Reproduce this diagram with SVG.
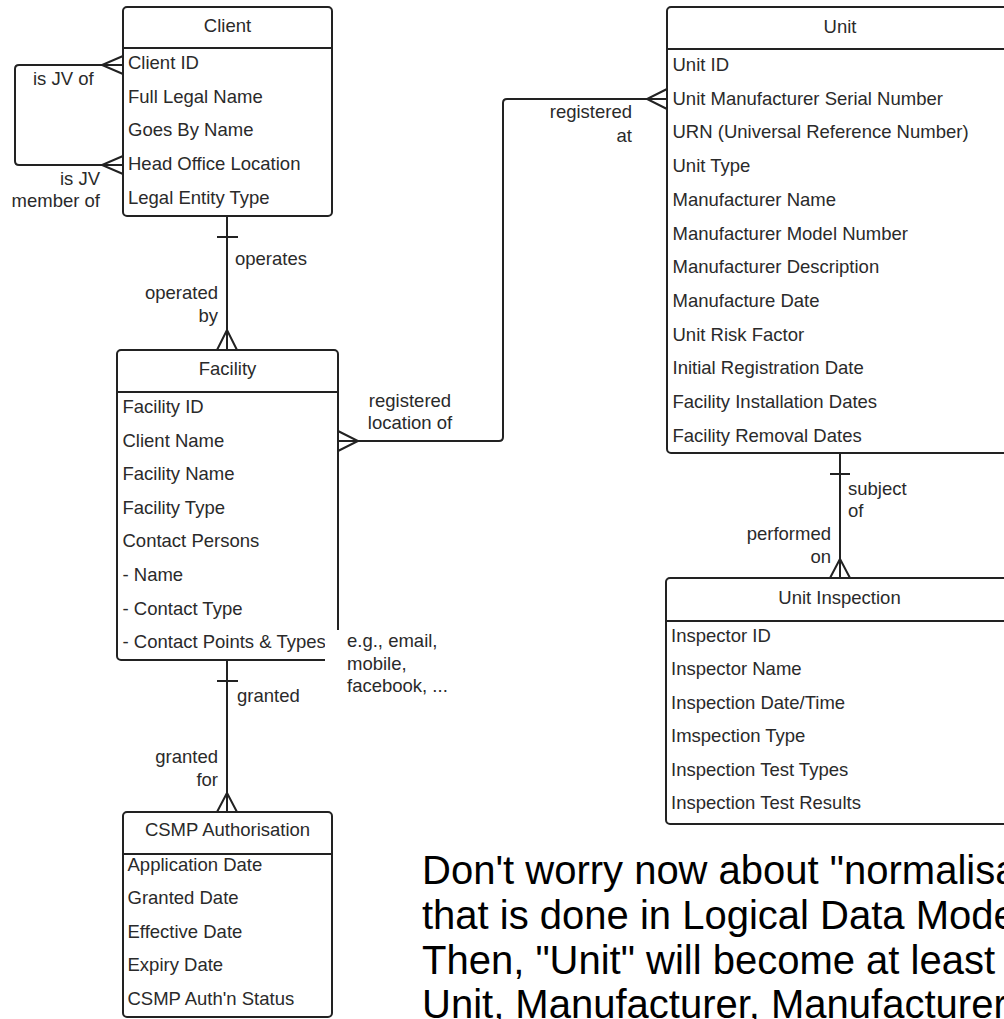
<svg xmlns="http://www.w3.org/2000/svg" width="1004" height="1019" viewBox="0 0 1004 1019">
<style>
text{font-family:"Liberation Sans",Arial,sans-serif;font-size:18.5px;fill:#2a2a2a}
.box{fill:#fff;stroke:#222;stroke-width:2}
.hdr{stroke:#222;stroke-width:2}
.ln{fill:none;stroke:#222;stroke-width:2}
.t{text-anchor:middle}
.r{text-anchor:end}
.c{text-anchor:middle}
.note{font-size:40px;fill:#000}
</style>
<rect width="1004" height="1019" fill="#fff"/>

<g id="connectors">
  <!-- Client self loop -->
  <path class="ln" d="M102,65 H19 Q15,65 15,69 V161 Q15,165 19,165 H102"/>
  <path class="ln" d="M123,56 L102,65 L123,74 M102,65 H123"/>
  <path class="ln" d="M123,156 L102,165 L123,174 M102,165 H123"/>
  <text x="33" y="85">is JV of</text>
  <text class="r" x="100" y="185">is JV</text>
  <text class="r" x="100" y="206.5">member of</text>
  <!-- Client - Facility -->
  <path class="ln" d="M227,216 V350"/>
  <path class="ln" d="M217,237 H238"/>
  <path class="ln" d="M217,350 L227,330 L237,350"/>
  <text x="235" y="265">operates</text>
  <text class="r" x="218" y="299">operated</text>
  <text class="r" x="218" y="321.5">by</text>
  <!-- Facility - Unit -->
  <path class="ln" d="M338,441 H499 Q503,441 503,437 V103 Q503,99 507,99 H667"/>
  <path class="ln" d="M338,431 L358,441 L338,451"/>
  <path class="ln" d="M667,89 L647,99 L667,109"/>
  <text class="c" x="410" y="406.5">registered</text>
  <text class="c" x="410" y="429">location of</text>
  <text class="r" x="632" y="118">registered</text>
  <text class="r" x="632" y="141.5">at</text>
  <!-- Facility - CSMP -->
  <path class="ln" d="M227,660 V812"/>
  <path class="ln" d="M217,681 H238"/>
  <path class="ln" d="M217,812 L227,793 L237,812"/>
  <text x="237" y="701.5">granted</text>
  <text class="r" x="218" y="763">granted</text>
  <text class="r" x="218" y="786">for</text>
  <!-- Unit - Inspection -->
  <path class="ln" d="M840,453 V578"/>
  <path class="ln" d="M830,474 H850"/>
  <path class="ln" d="M830,578 L840,559 L850,578"/>
  <text x="848" y="495">subject</text>
  <text x="848" y="517">of</text>
  <text class="r" x="831" y="540">performed</text>
  <text class="r" x="831" y="562.5">on</text>
</g>

<g id="client">
  <rect class="box" x="123" y="7" width="209" height="209" rx="4"/>
  <line class="hdr" x1="123" y1="48" x2="332" y2="48"/>
  <text class="t" x="227.5" y="32">Client</text>
  <text x="128" y="69">Client ID</text>
  <text x="128" y="102.7">Full Legal Name</text>
  <text x="128" y="136.4">Goes By Name</text>
  <text x="128" y="170.1">Head Office Location</text>
  <text x="128" y="203.8">Legal Entity Type</text>
</g>

<g id="unit">
  <rect class="box" x="667" y="7" width="346" height="446" rx="4"/>
  <line class="hdr" x1="667" y1="49" x2="1013" y2="49"/>
  <text class="t" x="840" y="33">Unit</text>
  <text x="672.5" y="71">Unit ID</text>
  <text x="672.5" y="104.7">Unit Manufacturer Serial Number</text>
  <text x="672.5" y="138.4">URN (Universal Reference Number)</text>
  <text x="672.5" y="172.1">Unit Type</text>
  <text x="672.5" y="205.8">Manufacturer Name</text>
  <text x="672.5" y="239.5">Manufacturer Model Number</text>
  <text x="672.5" y="273.2">Manufacturer Description</text>
  <text x="672.5" y="306.9">Manufacture Date</text>
  <text x="672.5" y="340.6">Unit Risk Factor</text>
  <text x="672.5" y="374.3">Initial Registration Date</text>
  <text x="672.5" y="408">Facility Installation Dates</text>
  <text x="672.5" y="441.7">Facility Removal Dates</text>
</g>

<g id="facility">
  <rect class="box" x="117" y="350" width="221" height="310" rx="4"/>
  <line class="hdr" x1="117" y1="392" x2="338" y2="392"/>
  <text class="t" x="227.5" y="375">Facility</text>
  <text x="122.5" y="413">Facility ID</text>
  <text x="122.5" y="446.6">Client Name</text>
  <text x="122.5" y="480.2">Facility Name</text>
  <text x="122.5" y="513.8">Facility Type</text>
  <text x="122.5" y="547.4">Contact Persons</text>
  <text x="122.5" y="581">- Name</text>
  <text x="122.5" y="614.6">- Contact Type</text>
  <text x="122.5" y="648.2">- Contact Points &amp; Types</text>
</g>

<g id="facility-note">
  <rect x="325" y="630" width="125" height="68" fill="#fff"/>
  <text x="347" y="646.5">e.g., email,</text>
  <text x="347" y="670">mobile,</text>
  <text x="347" y="691.5">facebook, ...</text>
</g>

<g id="csmp">
  <rect class="box" x="123" y="812" width="209" height="205" rx="4"/>
  <line class="hdr" x1="123" y1="854" x2="332" y2="854"/>
  <text class="t" x="227.5" y="836">CSMP Authorisation</text>
  <text x="127.5" y="871">Application Date</text>
  <text x="127.5" y="904.4">Granted Date</text>
  <text x="127.5" y="937.8">Effective Date</text>
  <text x="127.5" y="971.2">Expiry Date</text>
  <text x="127.5" y="1004.6">CSMP Auth'n Status</text>
</g>

<g id="unit-inspection">
  <rect class="box" x="666" y="578" width="347" height="246" rx="4"/>
  <line class="hdr" x1="666" y1="621" x2="1013" y2="621"/>
  <text class="t" x="839.5" y="604">Unit Inspection</text>
  <text x="671" y="641.7">Inspector ID</text>
  <text x="671" y="675.2">Inspector Name</text>
  <text x="671" y="708.7">Inspection Date/Time</text>
  <text x="671" y="742.2">Imspection Type</text>
  <text x="671" y="775.7">Inspection Test Types</text>
  <text x="671" y="809.2">Inspection Test Results</text>
</g>

<g id="comment">
  <text class="note" x="422" y="884">Don't worry now about "normalisation"</text>
  <text class="note" x="422" y="929">that is done in Logical Data Modelling.</text>
  <text class="note" x="422" y="974">Then, "Unit" will become at least</text>
  <text class="note" x="422" y="1018">Unit, Manufacturer, Manufacturer</text>
</g>
</svg>
